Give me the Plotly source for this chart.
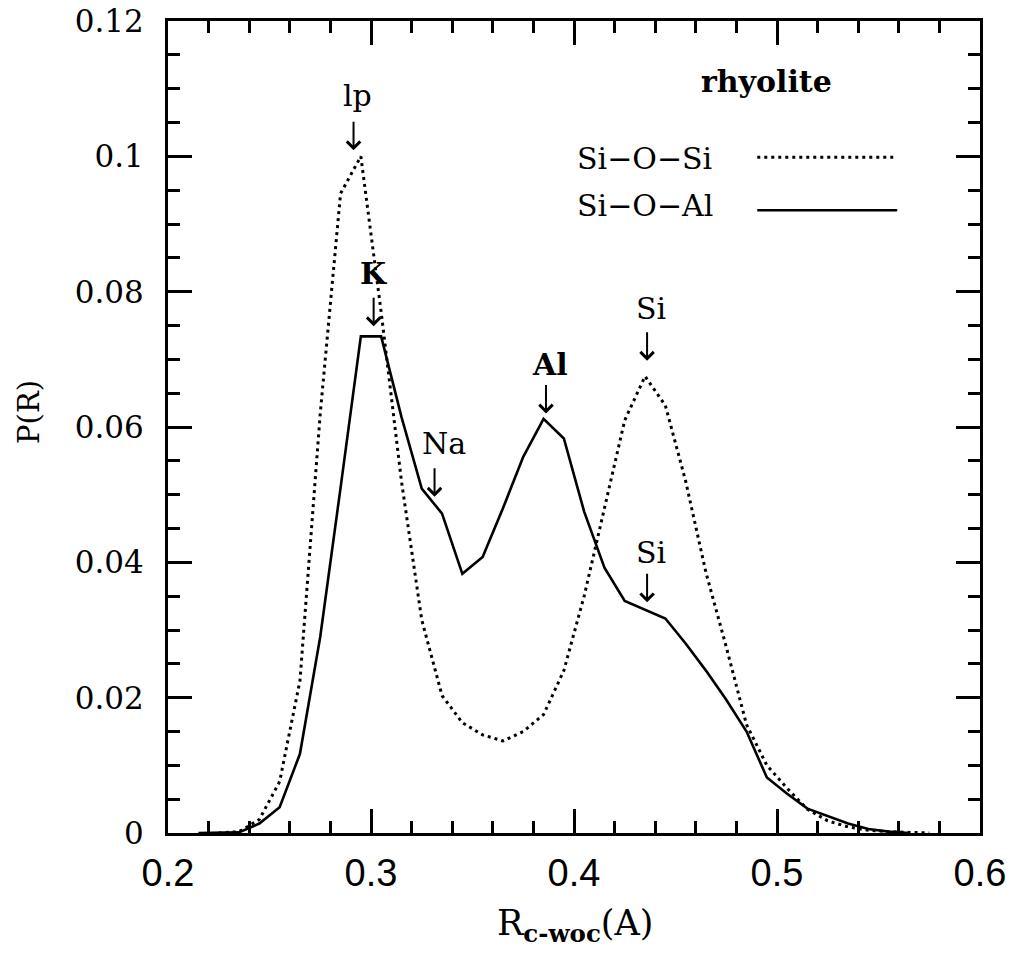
import plotly.graph_objects as go

# ---------------- data ----------------
r_sios = [0.225, 0.235, 0.245, 0.255, 0.265, 0.275, 0.285, 0.295, 0.305, 0.315,
          0.325, 0.335, 0.345, 0.355, 0.365, 0.375, 0.385, 0.395, 0.405, 0.415,
          0.425, 0.435, 0.445, 0.455, 0.465, 0.475, 0.485, 0.495, 0.505, 0.515,
          0.525, 0.535, 0.545, 0.555, 0.565, 0.575]
p_sios = [0.0, 0.0002, 0.0020, 0.0076, 0.0225, 0.0620, 0.0945, 0.1000, 0.0770, 0.0520,
          0.0315, 0.0203, 0.0163, 0.0145, 0.0136, 0.0150, 0.0175, 0.0240, 0.0350, 0.0480,
          0.0610, 0.0675, 0.0632, 0.0520, 0.0385, 0.0275, 0.0160, 0.0100, 0.0066, 0.0035,
          0.0018, 0.0009, 0.0004, 0.0002, 0.0001, 0.0]

r_sioal = [0.215, 0.225, 0.235, 0.245, 0.255, 0.265, 0.275, 0.285, 0.295, 0.305,
           0.315, 0.325, 0.335, 0.345, 0.355, 0.365, 0.375, 0.385, 0.395, 0.405,
           0.415, 0.425, 0.435, 0.445, 0.455, 0.465, 0.475, 0.485, 0.495, 0.505,
           0.515, 0.525, 0.535, 0.545, 0.555, 0.565]
p_sioal = [0.0, 0.0, 0.0001, 0.0014, 0.0038, 0.0117, 0.0290, 0.0510, 0.0734, 0.0734,
           0.0615, 0.0509, 0.0472, 0.0383, 0.0408, 0.0480, 0.0556, 0.0612, 0.0583, 0.0475,
           0.0392, 0.0343, 0.0330, 0.0317, 0.0280, 0.0240, 0.0197, 0.0150, 0.0082, 0.0058,
           0.0036, 0.0025, 0.0014, 0.0006, 0.0002, 0.0]

peak_labels = ["lp", "K", "Na", "Al", "Si", "Si"]
peak_bold = [False, True, False, True, False, False]
label_x = [0.2932, 0.3011, 0.3361, 0.3883, 0.4381, 0.4381]
label_y = [0.1090, 0.0827, 0.0576, 0.0693, 0.0775, 0.0415]
arrow_x = [0.2914, 0.3013, 0.3313, 0.3862, 0.4360, 0.4360]
arrow_tip_y = [0.1009, 0.0749, 0.0497, 0.0620, 0.0698, 0.0341]

legend_names = ["Si\u2212O\u2212Si", "Si\u2212O\u2212Al"]
panel_title = "rhyolite"
x_title = "R<sub><b>c-woc</b></sub>(A)"
y_title = "P(R)"

SERIF = "DejaVu Serif"

fig = go.Figure()
fig.add_trace(go.Scatter(x=r_sios, y=p_sios, mode="lines", name=legend_names[0],
                         line=dict(color="black", width=3, dash="3px,4px")))
fig.add_trace(go.Scatter(x=r_sioal, y=p_sioal, mode="lines", name=legend_names[1],
                         line=dict(color="black", width=2.6)))

ann = []
for t, b, lx, ly in zip(peak_labels, peak_bold, label_x, label_y):
    ann.append(dict(x=lx, y=ly, xref="x", yref="y", text=(f"<b>{t}</b>" if b else t),
                    showarrow=False, font=dict(family=SERIF, size=30, color="black"),
                    xanchor="center", yanchor="middle"))
for axx, tipy in zip(arrow_x, arrow_tip_y):
    ann.append(dict(x=axx, y=tipy, xref="x", yref="y", text="", showarrow=True,
                    ax=0, ay=-30, arrowhead=4, arrowsize=1.3, arrowwidth=2,
                    arrowcolor="black", standoff=0))

# legend-like block (text left, line sample right)
ann.append(dict(x=0.7368, y=0.9257, xref="paper", yref="paper", text=f"<b>{panel_title}</b>",
                showarrow=False, font=dict(family=SERIF, size=30, color="black"),
                xanchor="center", yanchor="middle"))
ann.append(dict(x=0.5016, y=0.8309, xref="paper", yref="paper", text=legend_names[0],
                showarrow=False, font=dict(family=SERIF, size=30, color="black"),
                xanchor="left", yanchor="middle"))
ann.append(dict(x=0.5016, y=0.773, xref="paper", yref="paper", text=legend_names[1],
                showarrow=False, font=dict(family=SERIF, size=30, color="black"),
                xanchor="left", yanchor="middle"))
# axis titles
ann.append(dict(x=0.501, y=-0.1137, xref="paper", yref="paper", text=x_title,
                showarrow=False, font=dict(family=SERIF, size=35, color="black"),
                xanchor="center", yanchor="middle"))
ann.append(dict(x=-0.172, y=0.519, xref="paper", yref="paper", text=y_title,
                showarrow=False, textangle=-90, font=dict(family=SERIF, size=29, color="black"),
                xanchor="center", yanchor="middle"))

shapes = [
    dict(type="line", xref="paper", yref="paper", x0=0.7257, x1=0.8981, y0=0.8321, y1=0.8321,
         line=dict(color="black", width=3, dash="3px,4px")),
    dict(type="line", xref="paper", yref="paper", x0=0.7257, x1=0.8981, y0=0.7669, y1=0.7669,
         line=dict(color="black", width=2.6)),
]

fig.update_layout(
    width=1013, height=957,
    margin=dict(l=168, r=33, t=21, b=124, pad=0, autoexpand=False),
    paper_bgcolor="white", plot_bgcolor="white",
    showlegend=False,
    annotations=ann, shapes=shapes,
)
fig.update_xaxes(range=[0.2, 0.6], dtick=0.1, tick0=0.2, ticks="inside", ticklen=24, tickwidth=2.5,
                 tickcolor="black", showline=True, linecolor="black", linewidth=3, mirror="ticks",
                 showgrid=False, zeroline=False, automargin=False, ticklabeloverflow="allow",
                 minor=dict(dtick=0.02, ticks="inside", ticklen=12, tickwidth=2.5, tickcolor="black", showgrid=False),
                 tickfont=dict(family="Liberation Sans", size=38, color="black"),
                 ticklabelstandoff=4)
fig.update_yaxes(range=[0, 0.12], dtick=0.02, tick0=0, ticks="inside", ticklen=24, tickwidth=2.5,
                 tickcolor="black", showline=True, linecolor="black", linewidth=3, mirror="ticks",
                 showgrid=False, zeroline=False, automargin=False, ticklabeloverflow="allow",
                 minor=dict(dtick=0.005, ticks="inside", ticklen=12, tickwidth=2.5, tickcolor="black", showgrid=False),
                 tickfont=dict(family=SERIF, size=31, color="black"),
                 ticklabelstandoff=15)

# remove the browser's default 8px body margin so the figure fills the window exactly
fig.write_html("out.html", config={"displayModeBar": False},
               post_script="document.body.style.margin='0';document.body.style.overflow='hidden';")
